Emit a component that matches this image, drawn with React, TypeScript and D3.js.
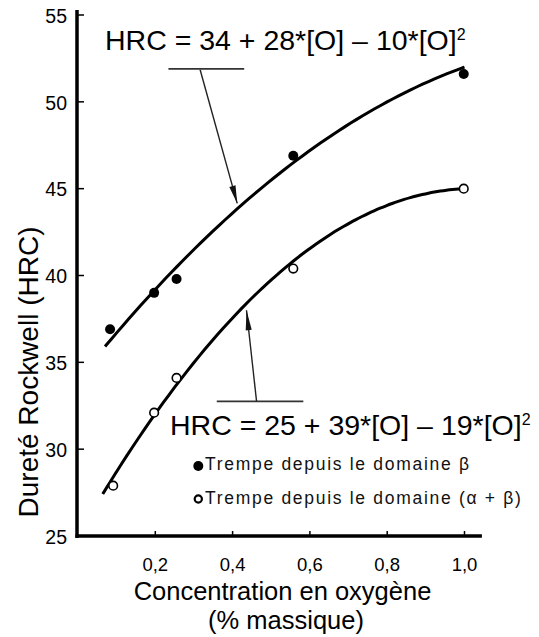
import React from "react";
import * as d3 from "d3";

// Data
const betaO = [0.083, 0.197, 0.255, 0.557, 0.998];
const betaHRC = [36.9, 39.0, 39.8, 46.9, 51.6];
const alphaBetaO = [0.091, 0.197, 0.255, 0.557, 0.998];
const alphaBetaHRC = [27.9, 32.1, 34.1, 40.4, 45.0];

// Fitted curves printed on the chart: HRC = a + b*[O] + c*[O]^2
const betaFit = [34, 28, -10];
const alphaBetaFit = [25, 39, -19];
const betaFitRange = [0.07, 1.0];
const alphaBetaFitRange = [0.064, 1.0];

const xTicks = [0.2, 0.4, 0.6, 0.8, 1.0];
const xTickLabels = ["0,2", "0,4", "0,6", "0,8", "1,0"];
const yTicks = [25, 30, 35, 40, 45, 50, 55];

const eq1 = "HRC = 34 + 28*[O] \u2013 10*[O]";
const eq2 = "HRC = 25 + 39*[O] \u2013 19*[O]";
const legend1 = "Trempe depuis le domaine \u03b2";
const legend2 = "Trempe depuis le domaine (\u03b1 + \u03b2)";
const xTitle1 = "Concentration en oxyg\u00e8ne";
const xTitle2 = "(% massique)";
const yTitle = "Duret\u00e9 Rockwell (HRC)";

// Annotation arrows in data coordinates
const arrow1Bar = [0.234, 0.43, 51.9];
const arrow1 = [0.316, 51.85, 0.412, 44.15];
const arrow2Bar = [0.359, 0.583, 32.75];
const arrow2 = [0.462, 32.75, 0.436, 38.0];

const FONT = "'Liberation Sans', Arial, Helvetica, sans-serif";

export default function App() {
  const W = 539;
  const H = 637;
  const x = d3.scaleLinear().domain([0, 1]).range([78, 464.5]);
  const y = d3.scaleLinear().domain([25, 55]).range([536, 15]);

  const fitPath = (coef: number[], range: number[]) => {
    const pts = d3.range(0, 61).map((i) => {
      const o = range[0] + ((range[1] - range[0]) * i) / 60;
      return [o, coef[0] + coef[1] * o + coef[2] * o * o] as [number, number];
    });
    return d3
      .line<[number, number]>()
      .x((d) => x(d[0]))
      .y((d) => y(d[1]))
      .curve(d3.curveBasis)(pts) as string;
  };

  const arrowHead = (x1: number, y1: number, x2: number, y2: number, len: number, w: number) => {
    const px1 = x(x1), py1 = y(y1), px2 = x(x2), py2 = y(y2);
    const dx = px2 - px1, dy = py2 - py1;
    const L = Math.hypot(dx, dy);
    const ux = dx / L, uy = dy / L;
    const bx = px2 - ux * len, by = py2 - uy * len;
    const nx = -uy, ny = ux;
    return `M${px2},${py2} L${bx + nx * w},${by + ny * w} L${bx - nx * w},${by - ny * w} Z`;
  };

  return (
    <svg
      width={W}
      height={H}
      style={{ position: "absolute", left: 0, top: 0, background: "#fff" }}
      fontFamily={FONT}
    >
      <rect width={W} height={H} fill="#fff" />
      {/* axes */}
      <line x1={x(0) - 1} x2={x(0) - 1} y1={10} y2={y(25) + 2} stroke="#000" strokeWidth={3.5} />
      <line x1={x(0) - 2.5} x2={x(1.045)} y1={y(25)} y2={y(25)} stroke="#000" strokeWidth={3.5} />
      {yTicks.map((t) => (
        <g key={"y" + t}>
          <line x1={x(0)} x2={x(0) + 6} y1={y(t)} y2={y(t)} stroke="#000" strokeWidth={1.5} />
          <text x={67} y={y(t) + 1} dy="0.35em" textAnchor="end" fontSize={19.5} fill="#000">
            {t}
          </text>
        </g>
      ))}
      {xTicks.map((t, i) => (
        <g key={"x" + t}>
          <line x1={x(t)} x2={x(t)} y1={y(25)} y2={y(25) - 5} stroke="#000" strokeWidth={1.5} />
          <text x={x(t)} y={571} textAnchor="middle" fontSize={18.5} fill="#000">
            {xTickLabels[i]}
          </text>
        </g>
      ))}
      {/* axis titles */}
      <text x={282.5} y={600} textAnchor="middle" fontSize={25.5} fill="#000">
        {xTitle1}
      </text>
      <text x={286} y={629} textAnchor="middle" fontSize={25.5} fill="#000">
        {xTitle2}
      </text>
      <text
        transform={`translate(38,372) rotate(-90)`}
        textAnchor="middle"
        fontSize={28}
        fill="#000"
      >
        {yTitle}
      </text>

      {/* fit curves */}
      <path d={fitPath(betaFit, betaFitRange)} fill="none" stroke="#000" strokeWidth={3} />
      <path d={fitPath(alphaBetaFit, alphaBetaFitRange)} fill="none" stroke="#000" strokeWidth={3} />

      {/* points */}
      {betaO.map((o, i) => (
        <circle key={"b" + i} cx={x(o)} cy={y(betaHRC[i])} r={5} fill="#000" />
      ))}
      {alphaBetaO.map((o, i) => (
        <circle
          key={"a" + i}
          cx={x(o)}
          cy={y(alphaBetaHRC[i])}
          r={4.3}
          fill="#fff"
          stroke="#000"
          strokeWidth={1.6}
        />
      ))}

      {/* annotations */}
      <line x1={x(arrow1Bar[0])} x2={x(arrow1Bar[1])} y1={y(arrow1Bar[2])} y2={y(arrow1Bar[2])} stroke="#333" strokeWidth={1.6} />
      <line x1={x(arrow1[0])} y1={y(arrow1[1])} x2={x(arrow1[2])} y2={y(arrow1[3])} stroke="#222" strokeWidth={1.4} />
      <path d={arrowHead(arrow1[0], arrow1[1], arrow1[2], arrow1[3], 18, 3.2)} fill="#111" />
      <line x1={x(arrow2Bar[0])} x2={x(arrow2Bar[1])} y1={y(arrow2Bar[2])} y2={y(arrow2Bar[2])} stroke="#333" strokeWidth={1.6} />
      <line x1={x(arrow2[0])} y1={y(arrow2[1])} x2={x(arrow2[2])} y2={y(arrow2[3])} stroke="#222" strokeWidth={1.4} />
      <path d={arrowHead(arrow2[0], arrow2[1], arrow2[2], arrow2[3], 20, 3)} fill="#111" />

      {/* equations */}
      <text x={105} y={50} fontSize={28.5} fill="#000">
        {eq1}
        <tspan fontSize={16} dy={-10}>2</tspan>
      </text>
      <rect x={168} y={405} width={370} height={38} fill="#fff" />
      <text x={170} y={435} fontSize={28.5} fill="#000">
        {eq2}
        <tspan fontSize={16} dy={-10}>2</tspan>
      </text>

      {/* legend */}
      <circle cx={198.3} cy={466} r={5} fill="#000" />
      <text x={205} y={470} fontSize={17.5} letterSpacing={1.7} fill="#111">
        {legend1}
      </text>
      <circle cx={198.3} cy={499} r={3.6} fill="#fff" stroke="#000" strokeWidth={2.2} />
      <text x={205} y={503.5} fontSize={17.5} letterSpacing={1.7} fill="#111">
        {legend2}
      </text>
    </svg>
  );
}
